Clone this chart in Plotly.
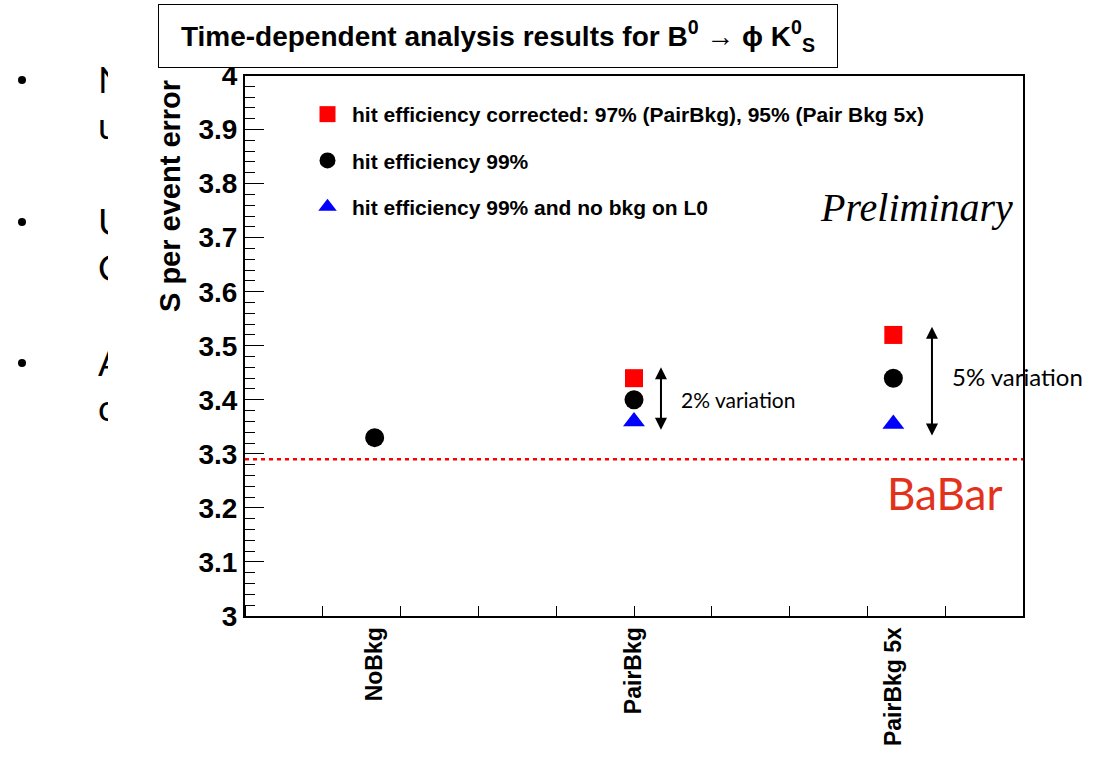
import plotly.graph_objects as go

# Background scenarios (x-axis categories)
categories = ["NoBkg", "PairBkg", "PairBkg 5x"]

# S per-event error for each configuration
corrected_vals = [None, 3.44, 3.52]      # hit efficiency corrected
eff99_vals = [3.33, 3.40, 3.44]          # hit efficiency 99%
eff99_nol0_vals = [None, 3.36, 3.355]    # 99% and no bkg on L0

babar_value = 3.29

series_names = [
    "hit efficiency corrected: 97% (PairBkg), 95% (Pair Bkg 5x)",
    "hit efficiency 99%",
    "hit efficiency 99% and no bkg on L0",
]

# Variation arrows: (category position, low, high, label, font size)
variations = [
    (1.604, 3.342, 3.46, "2% variation", 21),
    (2.649, 3.331, 3.535, "5% variation", 24),
]

y_ticks = [3.0, 3.1, 3.2, 3.3, 3.4, 3.5, 3.6, 3.7, 3.8, 3.9, 4.0]

W, H = 1093, 758
xpos = [i + 0.5 for i in range(len(categories))]

BOLD = dict(family="Liberation Sans", color="black", weight="bold")

fig = go.Figure()

styles = [
    dict(symbol="square", color="#ff0000", size=18),
    dict(symbol="circle", color="black", size=19),
    dict(symbol="triangle-up", color="#0000ff", size=19),
]
for name, vals, st in zip(series_names, [corrected_vals, eff99_vals, eff99_nol0_vals], styles):
    xs = [x for x, v in zip(xpos, vals) if v is not None]
    ys = [v for v in vals if v is not None]
    fig.add_trace(go.Scatter(
        x=xs, y=ys, mode="markers", name=name, legendgroup=name,
        marker=dict(symbol=st["symbol"], color=st["color"], size=st["size"],
                    line=dict(width=0)),
        xaxis="x", yaxis="y",
    ))

# Slide text peeking out at the left edge, clipped by its own axis box
slide_letters = ["N", "u", "U", "C", "A", "c"]
slide_rows = [84, 130, 226, 272, 367, 412]
fig.add_trace(go.Scatter(
    x=[98] * len(slide_letters), y=slide_rows, text=slide_letters,
    mode="text", textposition="middle right", cliponaxis=True,
    textfont=dict(family="Lato", size=36, color="black"),
    showlegend=False, hoverinfo="skip", xaxis="x2", yaxis="y2",
))

# Slide bullets
bullet_rows = [80, 222, 363]
fig.add_trace(go.Scatter(
    x=[22] * len(bullet_rows), y=bullet_rows, mode="markers",
    marker=dict(symbol="circle", size=8, color="black", line=dict(width=0)),
    showlegend=False, hoverinfo="skip", xaxis="x2", yaxis="y2",
))

fig.update_layout(
    width=W, height=H, autosize=False,
    margin=dict(l=0, r=0, t=0, b=0, autoexpand=False),
    paper_bgcolor="#f9f8f6",
    plot_bgcolor="white",
    showlegend=True,
    legend=dict(
        x=303 / W, y=1 - 94 / H, xanchor="left", yanchor="top",
        bgcolor="rgba(0,0,0,0)", borderwidth=0,
        font=dict(family="Liberation Sans", size=21, color="black", weight="bold"),
        tracegroupgap=16, itemwidth=39,
    ),
    xaxis=dict(
        domain=[245 / W, 1023 / W], range=[0, 3], automargin=False,
        tickmode="array", tickvals=xpos, ticktext=categories,
        ticks="", tickangle=-90, tickfont=dict(size=23, **BOLD),
        ticklabelstandoff=0,
        minor=dict(tickmode="linear", tick0=0, dtick=0.3, ticks="inside",
                   ticklen=10, tickwidth=1, tickcolor="black", showgrid=False),
        showgrid=False, zeroline=False,
        showline=True, linecolor="black", linewidth=2, mirror=True,
    ),
    yaxis=dict(
        domain=[(H - 616) / H, (H - 75.5) / H], range=[3, 4], automargin=False,
        tickmode="array", tickvals=y_ticks,
        ticktext=[f"{v:g}" for v in y_ticks],
        ticks="inside", ticklen=19, tickwidth=1, tickcolor="black",
        tickfont=dict(size=28, **BOLD),
        minor=dict(tickmode="linear", tick0=3, dtick=0.02, ticks="inside",
                   ticklen=10, tickwidth=1, tickcolor="black", showgrid=False),
        showgrid=False, zeroline=False,
        showline=True, linecolor="black", linewidth=2, mirror=True,
    ),
    xaxis2=dict(domain=[0, 108 / W], range=[0, 108], visible=False,
                fixedrange=True, automargin=False, anchor="y2"),
    yaxis2=dict(domain=[0, 1], range=[H, 0], visible=False, fixedrange=True,
                automargin=False, anchor="x2"),
)

# White chart canvas over the slide
fig.add_shape(type="rect", xref="paper", yref="paper", x0=108 / W, x1=1, y0=0, y1=1,
              fillcolor="white", line=dict(width=0), layer="below")

# BaBar reference line
fig.add_shape(type="line", xref="x", yref="y", x0=0, x1=3, y0=babar_value, y1=babar_value,
              line=dict(color="#ff0000", width=2.5, dash="4px,4px"))

# Title box
fig.add_annotation(
    xref="paper", yref="paper", x=497.5 / W, y=1 - 35.5 / H,
    text="Time-dependent analysis results for B<sup>0</sup> → ϕ K<sup>0</sup><sub>S</sub>",
    showarrow=False, font=dict(size=28, **BOLD),
    bgcolor="white", bordercolor="black", borderwidth=1,
    width=676, height=60, xanchor="center", yanchor="middle",
)

# Y-axis title
fig.add_annotation(
    xref="paper", yref="paper", x=170 / W, y=1 - 78 / H,
    text="S per event error", textangle=-90, showarrow=False,
    font=dict(size=29, **BOLD), xanchor="center", yanchor="top",
)

# Variation arrows and labels
for xv, lo, hi, label, fs in variations:
    fig.add_annotation(
        xref="x", yref="y", axref="x", ayref="y",
        x=xv, y=hi, ax=xv, ay=lo, text="", showarrow=True,
        arrowhead=2, arrowside="end+start", arrowsize=1.2, arrowwidth=2,
        arrowcolor="black", standoff=0, startstandoff=0,
    )
    fig.add_annotation(
        xref="x", yref="y", x=xv + 0.068, y=(lo + hi) / 2 + (0.0 if fs < 22 else 0.01),
        text=label, showarrow=False, xanchor="left", yanchor="middle",
        font=dict(family="Lato", size=fs, color="black"),
    )

# Preliminary tag
fig.add_annotation(
    xref="x", yref="y", x=2.59, y=3.755, text="<i>Preliminary</i>", showarrow=False,
    font=dict(family="Liberation Serif, Times New Roman, serif", size=40, color="black"),
)

# BaBar label
fig.add_annotation(
    xref="x", yref="y", x=2.70, y=3.228, text="BaBar", showarrow=False,
    font=dict(family="Lato", size=44, color="#e2321c"),
)

fig.write_html("out.html")
